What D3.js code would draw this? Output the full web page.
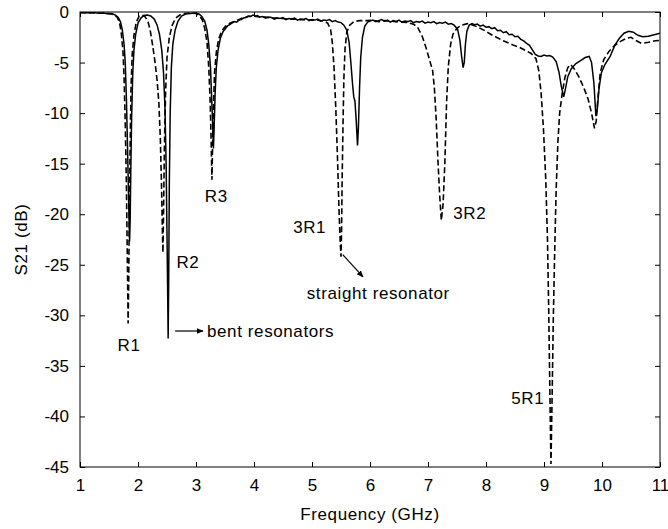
<!DOCTYPE html>
<html>
<head>
<meta charset="utf-8">
<script src="https://cdn.jsdelivr.net/npm/d3@7"></script>
<style>
    body { margin: 0; background: #fff; }
    text { font-family: Arial, "Liberation Sans", sans-serif; fill: #000; }
</style>
</head>
<body>
<svg id="mainSvg"></svg>
<script>
// S21 of bent resonators (solid) and straight resonators (dashed), [GHz, dB]
const bent = [
    [1.00, -0.08], [1.08, -0.05], [1.16, -0.10], [1.24, -0.06], [1.32, -0.12], [1.40, -0.10],
    [1.48, -0.18], [1.55, -0.15], [1.61, -0.30], [1.66, -0.55], [1.70, -1.0], [1.73, -1.8],
    [1.76, -3.2], [1.78, -5.0], [1.80, -8.5], [1.82, -13.5], [1.84, -19.0], [1.855, -22.7],
    [1.865, -20.5], [1.875, -16.0], [1.89, -10.5], [1.91, -6.0], [1.93, -3.8], [1.96, -2.2],
    [2.00, -1.1], [2.05, -0.6], [2.10, -0.35], [2.16, -0.3], [2.22, -0.4], [2.28, -0.7],
    [2.33, -1.3], [2.37, -2.2], [2.41, -3.8], [2.44, -6.0], [2.465, -9.5], [2.485, -15.0],
    [2.50, -22.0], [2.51, -27.0], [2.52, -32.3], [2.53, -26.0], [2.54, -17.0], [2.555, -10.0],
    [2.575, -5.5], [2.60, -3.2], [2.64, -1.8], [2.69, -0.9], [2.75, -0.4], [2.82, -0.2],
    [2.90, -0.15], [2.98, -0.1], [3.05, -0.2], [3.10, -0.45], [3.15, -0.9], [3.19, -1.8],
    [3.22, -3.2], [3.25, -5.5], [3.27, -8.5], [3.29, -11.5], [3.30, -13.5], [3.31, -12.0],
    [3.33, -8.0], [3.35, -5.5], [3.38, -3.8], [3.42, -2.6], [3.47, -1.9], [3.54, -1.4],
    [3.62, -1.1], [3.66, -0.95], [3.70, -1.0], [3.74, -0.8], [3.78, -0.75], [3.82, -0.6],
    [3.86, -0.55], [3.90, -0.4], [3.94, -0.45], [3.98, -0.3], [4.02, -0.4], [4.06, -0.35],
    [4.10, -0.5], [4.15, -0.45], [4.20, -0.6], [4.25, -0.5], [4.30, -0.55], [4.35, -0.7],
    [4.40, -0.6], [4.45, -0.65], [4.50, -0.55], [4.55, -0.75], [4.60, -0.65], [4.65, -0.7],
    [4.70, -0.6], [4.75, -0.8], [4.80, -0.7], [4.85, -0.75], [4.90, -0.65], [4.95, -0.85],
    [5.00, -0.75], [5.05, -0.8], [5.10, -0.7], [5.15, -0.9], [5.20, -0.8], [5.25, -0.85],
    [5.30, -0.75], [5.35, -0.95], [5.40, -0.85], [5.45, -1.0], [5.50, -1.05], [5.55, -1.3],
    [5.60, -1.8], [5.64, -3.0], [5.67, -5.0], [5.70, -7.2], [5.72, -8.4], [5.74, -8.8],
    [5.76, -10.5], [5.785, -13.2], [5.80, -11.5], [5.82, -7.5], [5.84, -4.5], [5.87, -2.5],
    [5.91, -1.4], [5.96, -1.0], [6.00, -0.9], [6.05, -0.8], [6.10, -0.95], [6.15, -0.85],
    [6.20, -0.75], [6.25, -0.9], [6.30, -0.8], [6.35, -1.0], [6.40, -0.85], [6.45, -0.95],
    [6.50, -0.8], [6.55, -1.0], [6.60, -0.9], [6.65, -0.95], [6.70, -0.85], [6.75, -1.05],
    [6.80, -0.95], [6.85, -1.0], [6.90, -0.9], [6.95, -1.1], [7.00, -1.0], [7.05, -1.05],
    [7.10, -0.95], [7.15, -1.15], [7.20, -1.05], [7.25, -1.1], [7.30, -1.0], [7.35, -1.2],
    [7.40, -1.15], [7.45, -1.3], [7.51, -1.7], [7.55, -2.8], [7.58, -4.4], [7.605, -5.5],
    [7.625, -5.0], [7.645, -3.2], [7.67, -1.9], [7.71, -1.3], [7.76, -1.15], [7.80, -1.25],
    [7.85, -1.2], [7.90, -1.4], [7.95, -1.3], [8.00, -1.5], [8.05, -1.45], [8.10, -1.65],
    [8.15, -1.55], [8.20, -1.85], [8.25, -1.8], [8.30, -2.05], [8.35, -1.95], [8.40, -2.25],
    [8.45, -2.2], [8.50, -2.45], [8.55, -2.4], [8.60, -2.7], [8.65, -2.85], [8.70, -3.1],
    [8.75, -3.3], [8.80, -3.75], [8.85, -4.2], [8.90, -4.35], [8.95, -4.4], [9.00, -4.25],
    [9.05, -4.35], [9.10, -4.3], [9.15, -4.45], [9.21, -4.9], [9.26, -6.0], [9.30, -7.4],
    [9.34, -8.4], [9.37, -7.6], [9.41, -6.4], [9.47, -5.6], [9.55, -5.1], [9.63, -4.8],
    [9.71, -4.5], [9.78, -4.4], [9.82, -5.0], [9.86, -7.0], [9.895, -10.3], [9.92, -9.5],
    [9.95, -7.5], [9.99, -6.0], [10.05, -5.2], [10.14, -4.4], [10.22, -3.3], [10.30, -2.6],
    [10.38, -2.1], [10.46, -1.9], [10.54, -2.0], [10.62, -2.3], [10.70, -2.45], [10.80, -2.4],
    [10.90, -2.25], [11.00, -2.1]
];

const straight = [
    [1.00, -0.05], [1.10, -0.08], [1.20, -0.06], [1.30, -0.1], [1.40, -0.12], [1.50, -0.15],
    [1.58, -0.25], [1.64, -0.5], [1.68, -1.0], [1.71, -2.0], [1.74, -3.8], [1.76, -6.5],
    [1.78, -11.0], [1.80, -17.0], [1.815, -24.0], [1.83, -30.8], [1.84, -26.5], [1.85, -20.0],
    [1.865, -13.0], [1.88, -7.5], [1.90, -4.2], [1.93, -2.3], [1.97, -1.0], [2.02, -0.4],
    [2.07, -0.3], [2.12, -0.45], [2.17, -0.9], [2.21, -1.8], [2.25, -3.2], [2.29, -4.8],
    [2.33, -6.8], [2.36, -9.0], [2.385, -12.5], [2.405, -17.0], [2.42, -21.5], [2.43, -23.8],
    [2.44, -20.0], [2.455, -13.5], [2.475, -8.0], [2.50, -4.5], [2.54, -2.5], [2.59, -1.3],
    [2.65, -0.6], [2.72, -0.3], [2.80, -0.15], [2.90, -0.1], [3.00, -0.15], [3.06, -0.35],
    [3.11, -0.8], [3.15, -1.6], [3.19, -3.0], [3.22, -5.5], [3.245, -9.0], [3.26, -12.5],
    [3.275, -16.6], [3.285, -13.5], [3.30, -9.5], [3.32, -6.0], [3.35, -4.0], [3.39, -2.7],
    [3.44, -1.9], [3.51, -1.4], [3.60, -1.05], [3.70, -0.85], [3.80, -0.6], [3.90, -0.45],
    [4.00, -0.4], [4.10, -0.5], [4.20, -0.5], [4.30, -0.6], [4.40, -0.6], [4.50, -0.65],
    [4.60, -0.7], [4.70, -0.7], [4.80, -0.75], [4.90, -0.75], [5.00, -0.8], [5.10, -0.8],
    [5.20, -0.9], [5.27, -1.1], [5.32, -1.7], [5.35, -3.0], [5.38, -5.5], [5.41, -9.5],
    [5.44, -14.5], [5.465, -19.5], [5.485, -22.5], [5.50, -24.2], [5.51, -21.5], [5.52, -16.5],
    [5.535, -11.0], [5.55, -6.5], [5.57, -3.6], [5.60, -2.0], [5.65, -1.3], [5.72, -0.95],
    [5.82, -0.85], [5.95, -0.85], [6.05, -0.8], [6.15, -0.95], [6.25, -0.85], [6.35, -0.9],
    [6.45, -0.95], [6.55, -1.0], [6.65, -1.05], [6.75, -1.2], [6.82, -1.5], [6.90, -2.4],
    [6.97, -3.6], [7.03, -4.8], [7.08, -5.8], [7.11, -7.5], [7.14, -10.5], [7.17, -14.5],
    [7.20, -18.0], [7.23, -20.6], [7.26, -19.0], [7.29, -15.0], [7.32, -9.0], [7.35, -5.4],
    [7.39, -3.2], [7.43, -2.2], [7.50, -1.6], [7.58, -1.3], [7.68, -1.15], [7.78, -1.3],
    [7.88, -1.55], [7.98, -1.85], [8.08, -2.2], [8.18, -2.5], [8.28, -2.8], [8.38, -3.05],
    [8.48, -3.3], [8.58, -3.5], [8.68, -3.8], [8.78, -4.1], [8.86, -4.6], [8.91, -5.8],
    [8.95, -8.0], [8.99, -11.5], [9.03, -16.5], [9.06, -22.5], [9.08, -29.0], [9.10, -37.0],
    [9.12, -44.7], [9.14, -38.0], [9.16, -30.5], [9.185, -23.5], [9.21, -17.5], [9.24, -12.8],
    [9.27, -10.0], [9.31, -8.2], [9.36, -6.5], [9.41, -5.5], [9.46, -5.2], [9.52, -5.6],
    [9.60, -6.4], [9.68, -7.4], [9.76, -8.6], [9.82, -10.0], [9.87, -11.5], [9.90, -10.8],
    [9.93, -8.5], [9.97, -6.0], [10.03, -4.7], [10.12, -3.9], [10.22, -3.3], [10.32, -2.9],
    [10.42, -2.6], [10.50, -2.5], [10.58, -2.8], [10.68, -3.1], [10.80, -3.0], [10.92, -2.85],
    [11.00, -2.8]
];

const xTicks = [1, 2, 3, 4, 5, 6, 7, 8, 9, 10, 11];
const yTicks = [0, -5, -10, -15, -20, -25, -30, -35, -40, -45];

// resonance labels, in data coordinates
const peakLabels = [
    { text: 'R1', f: 1.845, db: -32.9 },
    { text: 'R2', f: 2.86, db: -24.7 },
    { text: 'R3', f: 3.35, db: -18.2 },
    { text: '3R1', f: 4.96, db: -21.3 },
    { text: '3R2', f: 7.72, db: -19.9 },
    { text: '5R1', f: 8.72, db: -38.2 }
];

// arrows with their captions
const notes = [
    { text: 'bent resonators', from: [2.64, -31.55], to: [3.12, -31.55], tx: 3.19, ty: -31.55 },
    { text: 'straight resonator', from: [5.53, -24.0], to: [5.88, -26.2], tx: 4.91, ty: -27.8 }
];

const style = {
    svgW: 668, svgH: 529,
    pdg: { t: 12, l: 80, r: 8 },
    plotH: 455,
    font: 17,
    spacing: '0.6px',
    tick: 5,
    get plotW() { return this.svgW - this.pdg.l - this.pdg.r; }
};

const svg = d3.select('#mainSvg')
    .attr('width', style.svgW)
    .attr('height', style.svgH);

svg.append('defs').append('marker')
    .attr('id', 'arrowHead')
    .attr('viewBox', '0 0 10 10')
    .attr('refX', 9).attr('refY', 5)
    .attr('markerWidth', 7).attr('markerHeight', 7)
    .attr('markerUnits', 'userSpaceOnUse')
    .attr('orient', 'auto')
    .append('path')
    .attr('d', 'M0,1 L10,5 L0,9 Z')
    .attr('fill', '#000');

svg.select('defs').append('clipPath')
    .attr('id', 'plotClip')
    .append('rect')
    .attr('width', style.plotW)
    .attr('height', style.plotH);

const g = svg.append('g')
    .attr('transform', `translate(${style.pdg.l},${style.pdg.t})`);

const x = d3.scaleLinear().domain([1, 11]).range([0, style.plotW]);
const y = d3.scaleLinear().domain([-45, 0]).range([style.plotH, 0]);

// axes, ticks pointing inward on all four sides
const fmt = d => String(d);
g.append('g')
    .attr('transform', `translate(0,${style.plotH})`)
    .call(d3.axisBottom(x).tickValues(xTicks).tickFormat(fmt)
        .tickSizeInner(-style.tick).tickSizeOuter(0).tickPadding(12));
g.append('g')
    .call(d3.axisTop(x).tickValues(xTicks).tickFormat('')
        .tickSizeInner(-style.tick).tickSizeOuter(0));
g.append('g')
    .call(d3.axisLeft(y).tickValues(yTicks).tickFormat(fmt)
        .tickSizeInner(-style.tick).tickSizeOuter(0).tickPadding(11));
g.append('g')
    .attr('transform', `translate(${style.plotW},0)`)
    .call(d3.axisRight(y).tickValues(yTicks).tickFormat('')
        .tickSizeInner(-style.tick).tickSizeOuter(0));

g.selectAll('.domain').remove();
g.selectAll('.tick line').attr('stroke', '#000');
g.selectAll('.tick text')
    .style('font-size', style.font + 'px')
    .style('font-family', 'Arial, "Liberation Sans", sans-serif');

g.append('rect')
    .attr('width', style.plotW)
    .attr('height', style.plotH)
    .attr('fill', 'none')
    .attr('stroke', '#000');

// curves
const line = d3.line()
    .x(d => x(d[0]))
    .y(d => y(d[1]));

const curves = g.append('g').attr('clip-path', 'url(#plotClip)');
curves.append('path')
    .datum(straight)
    .attr('d', line)
    .attr('fill', 'none')
    .attr('stroke', '#000')
    .attr('stroke-width', 1.6)
    .attr('stroke-dasharray', '6,3');
curves.append('path')
    .datum(bent)
    .attr('d', line)
    .attr('fill', 'none')
    .attr('stroke', '#000')
    .attr('stroke-width', 1.5);

// labels
g.selectAll('.peakLabel')
    .data(peakLabels)
    .join('text')
    .attr('class', 'peakLabel')
    .attr('x', d => x(d.f))
    .attr('y', d => y(d.db))
    .attr('dy', '0.36em')
    .attr('text-anchor', 'middle')
    .style('font-size', style.font + 'px')
    .style('letter-spacing', style.spacing)
    .text(d => d.text);

g.selectAll('.noteArrow')
    .data(notes)
    .join('line')
    .attr('class', 'noteArrow')
    .attr('x1', d => x(d.from[0])).attr('y1', d => y(d.from[1]))
    .attr('x2', d => x(d.to[0])).attr('y2', d => y(d.to[1]))
    .attr('stroke', '#000')
    .attr('stroke-width', 1.2)
    .attr('marker-end', 'url(#arrowHead)');

g.selectAll('.noteText')
    .data(notes)
    .join('text')
    .attr('class', 'noteText')
    .attr('x', d => x(d.tx))
    .attr('y', d => y(d.ty))
    .attr('dy', '0.36em')
    .style('font-size', style.font + 'px')
    .style('letter-spacing', style.spacing)
    .text(d => d.text);

// axis titles
svg.append('text')
    .attr('x', style.pdg.l + style.plotW / 2)
    .attr('y', 520)
    .attr('text-anchor', 'middle')
    .style('font-size', style.font + 'px')
    .style('letter-spacing', style.spacing)
    .text('Frequency (GHz)');

svg.append('text')
    .attr('transform', `translate(27,${style.pdg.t + style.plotH / 2}) rotate(-90)`)
    .attr('text-anchor', 'middle')
    .style('font-size', style.font + 'px')
    .style('letter-spacing', style.spacing)
    .text('S21 (dB)');
</script>
</body>
</html>
